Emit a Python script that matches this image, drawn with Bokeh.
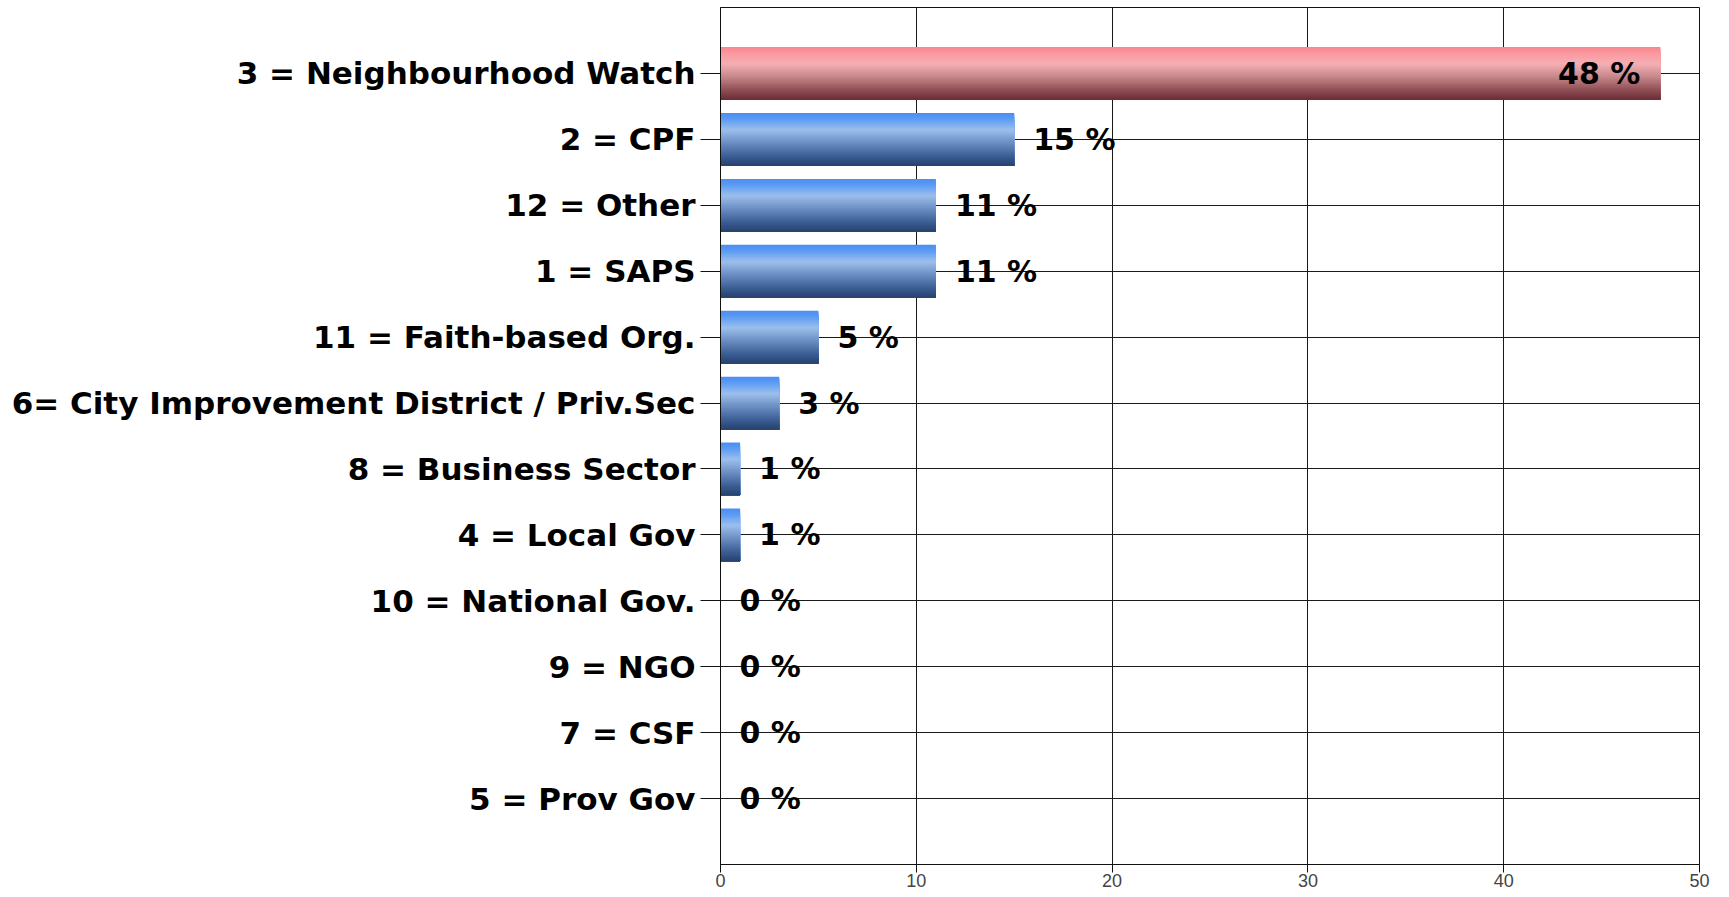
from bokeh.plotting import figure
from bokeh.models import Range1d, FixedTicker, ColumnDataSource
from bokeh.embed import file_html
from bokeh.resources import INLINE
from bokeh.core.properties import value
import numpy as np

# ---- data (top to bottom as displayed) ----
categories = [
    "3 = Neighbourhood Watch",
    "2 = CPF",
    "12 = Other",
    "1 = SAPS",
    "11 = Faith-based Org.",
    "6= City Improvement District / Priv.Sec",
    "8 = Business Sector",
    "4 = Local Gov",
    "10 = National Gov.",
    "9 = NGO",
    "7 = CSF",
    "5 = Prov Gov",
]
values = [48, 15, 11, 11, 5, 3, 1, 1, 0, 0, 0, 0]
value_labels = ["48 %", "15 %", "11 %", "11 %", "5 %", "3 %", "1 %", "1 %", "0 %", "0 %", "0 %", "0 %"]
highlight = [True] + [False] * 11
x_ticks = [0, 10, 20, 30, 40, 50]

n = len(categories)
ypos = [n - i for i in range(n)]  # 12 .. 1

FONT = "DejaVu Sans"

p = figure(width=1720, height=891, output_backend="svg", toolbar_location=None,
           x_range=Range1d(0, 50), y_range=Range1d(0, n + 1),
           min_border_left=720, min_border_right=21, min_border_top=7, min_border_bottom=27)
p.background_fill_color = "white"
p.outline_line_color = "#111111"
p.outline_line_width = 1

# grid
p.xgrid.ticker = FixedTicker(ticks=x_ticks)
p.ygrid.ticker = FixedTicker(ticks=ypos)
p.xgrid.grid_line_color = "#1a1a1a"
p.ygrid.grid_line_color = "#1a1a1a"
p.xgrid.grid_line_width = 1
p.ygrid.grid_line_width = 1

def hex2rgb(h):
    h = h.lstrip("#")
    return np.array([int(h[i:i + 2], 16) for i in (0, 2, 4)], dtype=float)

red_stops = [(0.0, "#f8868c"), (0.12, "#fb98a0"), (0.32, "#f4b0b3"), (0.55, "#c98a8d"),
             (0.82, "#8e4d54"), (1.0, "#6a2c35")]
blue_stops = [(0.0, "#4a8ef4"), (0.12, "#5c9cf3"), (0.32, "#9cbfec"), (0.55, "#6e92c6"),
              (0.82, "#3b5e94"), (1.0, "#27416d")]

def interp(stops, f):
    for (f0, c0), (f1, c1) in zip(stops[:-1], stops[1:]):
        if f0 <= f <= f1:
            t = (f - f0) / (f1 - f0) if f1 > f0 else 0
            c = hex2rgb(c0) * (1 - t) + hex2rgb(c1) * t
            return "#%02x%02x%02x" % tuple(int(round(v)) for v in c)
    return stops[-1][1]

# gradient: layered slices, each from its top down to the bar bottom
BAR_H = 0.8
NS = 40
ys, rights, heights, colors = [], [], [], []
for yp, v, hl in zip(ypos, values, highlight):
    if v <= 0:
        continue
    stops = red_stops if hl else blue_stops
    bottom = yp - BAR_H / 2
    for k in range(NS):
        top = yp + BAR_H / 2 - k * BAR_H / NS
        ys.append((top + bottom) / 2)
        rights.append(v)
        heights.append(top - bottom)
        colors.append(interp(stops, (k + 0.5) / NS))
p.hbar(y=ys, left=0, right=rights, height=heights, fill_color=colors, line_color=None)

# value labels
out_src = ColumnDataSource(dict(
    x=[v for v, hl in zip(values, highlight) if not hl],
    y=[yp for yp, hl in zip(ypos, highlight) if not hl],
    t=[t for t, hl in zip(value_labels, highlight) if not hl]))
in_src = ColumnDataSource(dict(
    x=[v for v, hl in zip(values, highlight) if hl],
    y=[yp for yp, hl in zip(ypos, highlight) if hl],
    t=[t for t, hl in zip(value_labels, highlight) if hl]))
p.text(x="x", y="y", text="t", source=out_src, x_offset=19, text_align="left",
       text_baseline="middle", text_font=value(FONT), text_font_style="bold",
       text_font_size="30px", text_color="black")
p.text(x="x", y="y", text="t", source=in_src, x_offset=-20, text_align="right",
       text_baseline="middle", text_font=value(FONT), text_font_style="bold",
       text_font_size="30px", text_color="black")

# y axis
p.yaxis.ticker = FixedTicker(ticks=ypos)
p.yaxis.major_label_overrides = {yp: c for yp, c in zip(ypos, categories)}
p.yaxis.major_label_text_font = FONT
p.yaxis.major_label_text_font_style = "bold"
p.yaxis.major_label_text_font_size = "31px"
p.yaxis.major_label_text_color = "black"
p.yaxis.major_tick_out = 20
p.yaxis.major_tick_in = 0
p.yaxis.minor_tick_line_color = None
p.yaxis.major_label_standoff = 5
p.yaxis.axis_line_color = "#111111"
p.yaxis.major_tick_line_color = "#111111"

# x axis
p.xaxis.ticker = FixedTicker(ticks=x_ticks)
p.xaxis.major_label_text_font = "Liberation Sans"
p.xaxis.major_label_text_font_size = "18px"
p.xaxis.major_label_text_color = "#444444"
p.xaxis.major_tick_out = 8
p.xaxis.major_tick_in = 0
p.xaxis.minor_tick_line_color = None
p.xaxis.major_label_standoff = 1
p.xaxis.axis_line_color = "#111111"
p.xaxis.major_tick_line_color = "#111111"

open("out.html", "w").write(file_html(p, INLINE))
